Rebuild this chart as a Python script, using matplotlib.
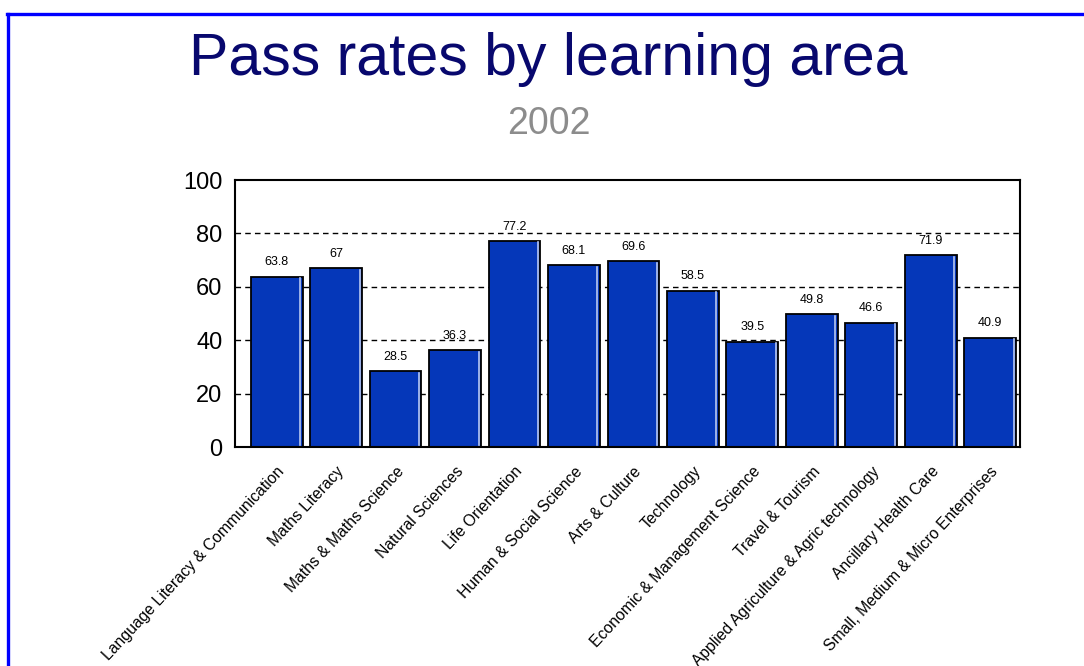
import matplotlib
matplotlib.use("Agg")
import matplotlib.pyplot as plt
from matplotlib.lines import Line2D

matplotlib.rcParams['font.family'] = ['Liberation Sans', 'DejaVu Sans']

areas = ["Language Literacy & Communication", "Maths Literacy", "Maths & Maths Science",
         "Natural Sciences", "Life Orientation", "Human & Social Science", "Arts & Culture",
         "Technology", "Economic & Management Science", "Travel & Tourism",
         "Applied Agriculture & Agric technology", "Ancillary Health Care",
         "Small, Medium & Micro Enterprises"]
rates = [63.8, 67, 28.5, 36.3, 77.2, 68.1, 69.6, 58.5, 39.5, 49.8, 46.6, 71.9, 40.9]
yticks = [0, 20, 40, 60, 80, 100]

fig = plt.figure(figsize=(10.84, 6.66), dpi=100)
ax = fig.add_axes([0.2168, 0.3288, 0.7241, 0.4009])

x = range(len(areas))
for yv in yticks[1:-1]:
    ax.axhline(yv, color='black', lw=1, ls=(0, (4, 3)), zorder=0)
bars = ax.bar(x, rates, width=0.87, color='#0537b9', edgecolor='black', linewidth=1.3, zorder=2)
# light highlight just inside the right edge of each bar
for b in bars:
    xr = b.get_x() + b.get_width() * 0.955
    ax.plot([xr, xr], [0.6, b.get_height() - 0.6], color='#b8c8f0', lw=1.2, zorder=3)
for b, v in zip(bars, rates):
    ax.annotate(f"{v:g}", (b.get_x() + b.get_width() / 2, v), xytext=(0, 6),
                textcoords='offset points', ha='center', va='bottom', fontsize=9)

ax.set_xlim(-0.70, 12.50)
ax.set_ylim(0, 100)
ax.set_yticks(yticks)
ax.set_yticklabels([str(t) for t in yticks], fontsize=17)
ax.tick_params(axis='y', length=0, pad=9)
ax.set_xticks(list(x))
ax.set_xticklabels(areas, rotation=47, ha='right', va='top', rotation_mode='anchor', fontsize=11.3)
ax.tick_params(axis='x', length=0, pad=12)
for s in ax.spines.values():
    s.set_linewidth(1.5)

fig.text(0.506, 0.91, "Pass rates by learning area", ha='center', va='center',
         fontsize=42.5, color='#08086e')
fig.text(0.506, 0.814, "2002", ha='center', va='center', fontsize=27, color='#8c8c8c')

fig.add_artist(Line2D([7 / 1084, 1], [1 - 14 / 666, 1 - 14 / 666], color='#0000ff', lw=2.4))
fig.add_artist(Line2D([8 / 1084, 8 / 1084], [0, 1 - 14 / 666], color='#0000ff', lw=2.4))

fig.savefig("out.png", dpi=100)
